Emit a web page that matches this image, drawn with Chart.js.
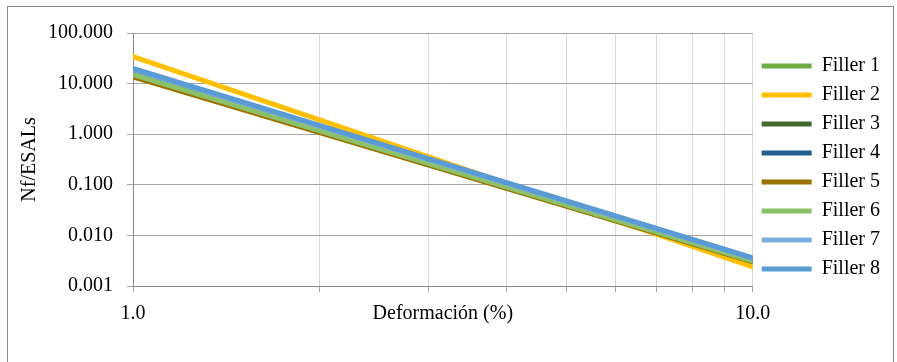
<!DOCTYPE html>
<html lang="en">

<head>
    <meta charset="UTF-8">
    <title>Nf/ESALs vs Deformación</title>
    <script src="https://cdn.jsdelivr.net/npm/chart.js@4.4.0/dist/chart.umd.min.js"></script>
    <style>
        body {
            margin: 0;
            background: #fff;
        }

        .frame {
            position: absolute;
            left: 7px;
            top: 6px;
            width: 885px;
            height: 360px;
            border: 1px solid #8c8c8c;
        }

        .chart-box {
            position: absolute;
            left: 0;
            top: 0;
            width: 897px;
            height: 362px;
        }
    </style>
</head>

<body>
    <div class="frame"></div>
    <div class="chart-box">
        <canvas id="myChart"></canvas>
    </div>
    <script>
        // deformation (%) at the two ends of each line
        const deformation = [1, 10];
        const seriesNames = ['Filler 1', 'Filler 2', 'Filler 3', 'Filler 4', 'Filler 5', 'Filler 6', 'Filler 7', 'Filler 8'];
        const filler1 = [14.5, 0.0030];
        const filler2 = [34.0, 0.0024];
        const filler3 = [14.0, 0.0031];
        const filler4 = [18.0, 0.0034];
        const filler5 = [13.5, 0.0030];
        const filler6 = [15.0, 0.0031];
        const filler7 = [19.0, 0.0035];
        const filler8 = [20.0, 0.0036];
        const yTicks = [0.001, 0.01, 0.1, 1, 10, 100];
        const xGrid = [1, 2, 3, 4, 5, 6, 7, 8, 9, 10];
        const xLabels = [1, 10];

        const colors = ['#70AD47', '#FFC000', '#43682B', '#255E91', '#997300', '#8CC168', '#7CAFDD', '#5B9BD5'];
        const allSeries = [filler1, filler2, filler3, filler4, filler5, filler6, filler7, filler8];

        const serif = "'Liberation Serif', 'Times New Roman', serif";
        Chart.defaults.font.family = serif;
        Chart.defaults.font.size = 20;
        Chart.defaults.color = '#000';

        // move the legend block a bit lower, like in the original
        const legendNudge = {
            id: 'legendNudge',
            afterLayout: function (chart) {
                chart.legend.top += 8;
                chart.legend.bottom += 8;
            }
        };

        const ctx = document.getElementById('myChart').getContext('2d');
        const myChart = new Chart(ctx, {
            type: 'line',
            data: {
                datasets: allSeries.map(function (vals, i) {
                    return {
                        label: seriesNames[i],
                        data: vals.map(function (v, j) {
                            return { x: deformation[j], y: v };
                        }),
                        borderColor: colors[i],
                        backgroundColor: colors[i],
                        borderWidth: 5,
                        borderCapStyle: 'round',
                        pointRadius: 0,
                        order: allSeries.length - i
                    };
                })
            },
            plugins: [legendNudge],
            options: {
                responsive: true,
                maintainAspectRatio: false,
                animation: false,
                layout: {
                    padding: { left: 14, top: 33, right: 7, bottom: 32 }
                },
                plugins: {
                    tooltip: { enabled: false },
                    legend: {
                        position: 'right',
                        fullSize: false,
                        labels: {
                            usePointStyle: true,
                            pointStyle: 'line',
                            pointStyleWidth: 50,
                            padding: 9,
                            sort: function (a, b) {
                                return a.datasetIndex - b.datasetIndex;
                            }
                        }
                    }
                },
                scales: {
                    x: {
                        type: 'logarithmic',
                        min: 1,
                        max: 10,
                        title: {
                            display: true,
                            text: 'Deformación (%)'
                        },
                        grid: {
                            color: '#d9d9d9',
                            tickColor: '#a6a6a6',
                            tickLength: 6
                        },
                        border: { color: '#8c8c8c' },
                        ticks: {
                            autoSkip: false,
                            maxRotation: 0,
                            padding: 10,
                            callback: function (value) {
                                return xLabels.includes(value) ? value.toFixed(1) : '';
                            }
                        },
                        afterBuildTicks: function (scale) {
                            scale.ticks = xGrid.map(function (v) {
                                return { value: v };
                            });
                        },
                        afterFit: function (scale) {
                            scale.height = 44;
                        }
                    },
                    y: {
                        type: 'logarithmic',
                        min: 0.001,
                        max: 100,
                        title: {
                            display: true,
                            text: 'Nf/ESALs'
                        },
                        grid: {
                            color: '#a6a6a6',
                            tickLength: 6
                        },
                        border: { color: '#8c8c8c' },
                        ticks: {
                            padding: 14,
                            callback: function (value) {
                                return value.toFixed(3);
                            }
                        },
                        afterBuildTicks: function (scale) {
                            scale.ticks = yTicks.map(function (v) {
                                return { value: v, major: true };
                            });
                        },
                        afterFit: function (scale) {
                            scale.width = 119;
                        }
                    }
                }
            }
        });
    </script>

</body>

</html>
